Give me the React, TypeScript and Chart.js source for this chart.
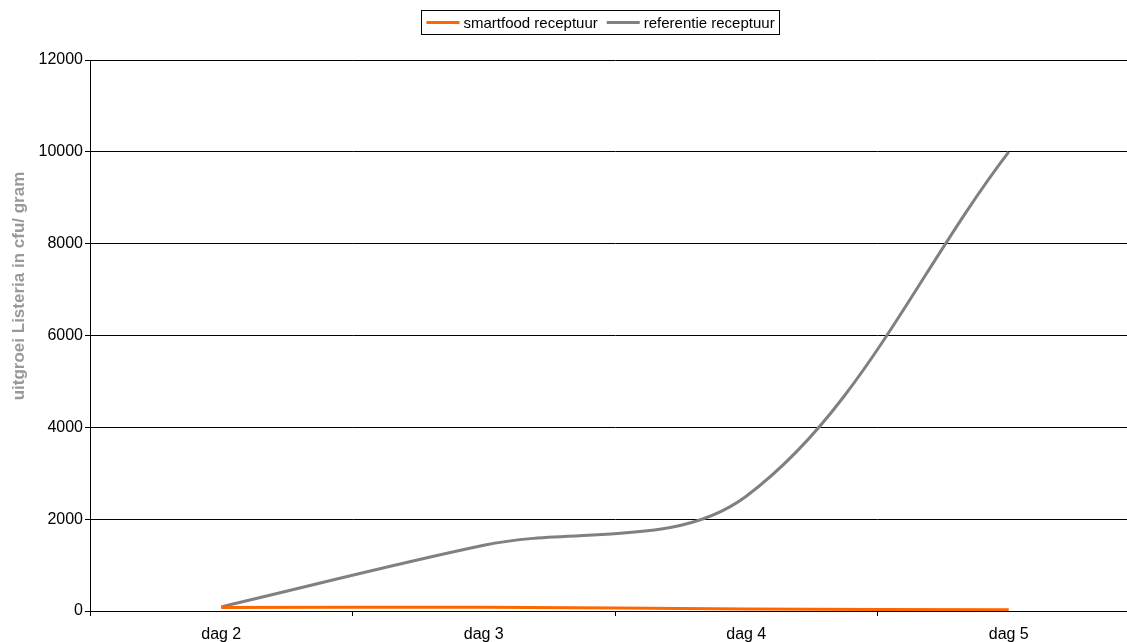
import React, { useEffect, useRef } from "react";
import { Chart, registerables } from "chart.js";

Chart.register(...registerables);

const categories = ["dag 2", "dag 3", "dag 4", "dag 5"];
const smartfoodValues = [75, 80, 45, 25];
const referentieValues = [90, 1430, 2500, 10000];
const seriesNames = ["smartfood receptuur", "referentie receptuur"];
const seriesColors = ["#FF6600", "#808080"];
const yAxisTitle = "uitgroei Listeria in cfu/ gram";

const FONT = "'Liberation Sans', Arial, sans-serif";

const boxedLegend = {
  id: "boxedLegend",
  afterDraw(chart: any) {
    const ctx = chart.ctx as CanvasRenderingContext2D;
    ctx.save();
    ctx.font = `15px ${FONT}`;
    const w1 = ctx.measureText(seriesNames[0]).width;
    const w2 = ctx.measureText(seriesNames[1]).width;
    const lineW = 33;
    const total = 5 + lineW + 4 + w1 + 9 + lineW + 4 + w2 + 5;
    const left = Math.round(600 - total / 2) + 0.5;
    const top = 10.5;
    const h = 24;
    ctx.strokeStyle = "#000";
    ctx.lineWidth = 1;
    ctx.strokeRect(left, top, Math.round(total), h);
    const cy = top + h / 2;
    let x = left + 5;
    const items = [w1, w2];
    items.forEach((w, i) => {
      ctx.strokeStyle = seriesColors[i];
      ctx.lineWidth = 3;
      ctx.beginPath();
      ctx.moveTo(x, cy);
      ctx.lineTo(x + lineW, cy);
      ctx.stroke();
      x += lineW + 4;
      ctx.fillStyle = "#000";
      ctx.textBaseline = "middle";
      ctx.textAlign = "left";
      ctx.fillText(seriesNames[i], x, cy + 1);
      x += w + 9;
    });
    ctx.restore();
  },
};

const axisTitle = {
  id: "axisTitle",
  afterDraw(chart: any) {
    const ctx = chart.ctx as CanvasRenderingContext2D;
    ctx.save();
    ctx.translate(19, 286);
    ctx.rotate(-Math.PI / 2);
    ctx.font = `bold 17px ${FONT}`;
    ctx.fillStyle = "#999999";
    ctx.textAlign = "center";
    ctx.textBaseline = "middle";
    ctx.fillText(yAxisTitle, 0, 0);
    ctx.restore();
  },
};

export default function App() {
  const canvasRef = useRef<HTMLCanvasElement | null>(null);

  useEffect(() => {
    if (!canvasRef.current) return;
    const chart = new Chart(canvasRef.current, {
      type: "line",
      data: {
        labels: categories,
        datasets: [
          {
            label: seriesNames[0],
            data: smartfoodValues,
            borderColor: seriesColors[0],
            backgroundColor: seriesColors[0],
            borderWidth: 3,
            pointRadius: 0,
            tension: 0.35,
            order: 1,
          },
          {
            label: seriesNames[1],
            data: referentieValues,
            borderColor: seriesColors[1],
            backgroundColor: seriesColors[1],
            borderWidth: 3,
            pointRadius: 0,
            tension: 0.35,
            order: 2,
          },
        ],
      },
      options: {
        responsive: false,
        animation: false,
        devicePixelRatio: 1,
        layout: { padding: { top: 60, left: 0, right: 0, bottom: 0 } },
        plugins: {
          legend: { display: false },
          tooltip: { enabled: false },
        },
        scales: {
          x: {
            offset: true,
            grid: {
              offset: true,
              drawOnChartArea: false,
              drawTicks: true,
              tickLength: 5,
              color: "#000",
            },
            border: { display: true, color: "#000", width: 1 },
            ticks: {
              color: "#000",
              font: { family: FONT, size: 16 },
              padding: 9,
              maxRotation: 0,
              autoSkip: false,
            },
            afterFit(scale: any) {
              scale.height = 31;
            },
          },
          y: {
            min: 0,
            max: 12000,
            ticks: {
              stepSize: 2000,
              color: "#000",
              font: { family: FONT, size: 16 },
              padding: 2,
              callback: (v: any) => String(v),
            },
            grid: {
              color: "#000",
              lineWidth: 1,
              drawTicks: true,
              tickLength: 5,
            },
            border: { display: true, color: "#000", width: 1 },
            afterFit(scale: any) {
              scale.width = 90;
            },
          },
        },
      },
      plugins: [boxedLegend, axisTitle],
    });
    return () => chart.destroy();
  }, []);

  return (
    <div
      style={{
        position: "absolute",
        left: 0,
        top: 0,
        width: 1127,
        height: 642,
        overflow: "hidden",
        background: "#fff",
      }}
    >
      <canvas ref={canvasRef} width={1140} height={642} style={{ display: "block" }} />
    </div>
  );
}
